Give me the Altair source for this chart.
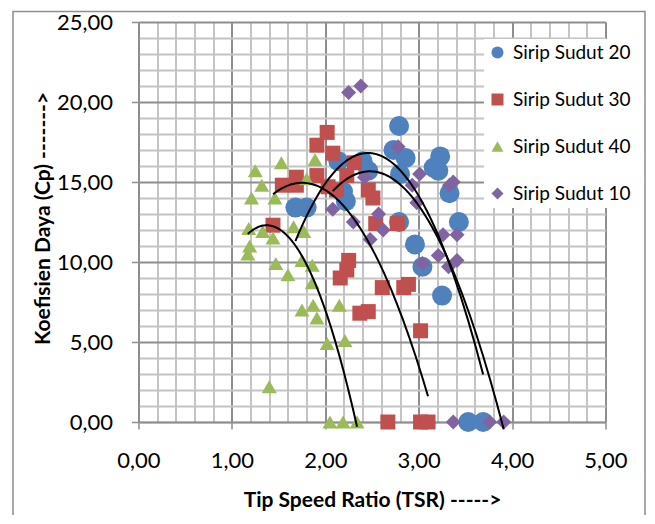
import altair as alt
import pandas as pd

series_names = ["Sirip Sudut 20", "Sirip Sudut 30", "Sirip Sudut 40", "Sirip Sudut 10"]
series_colors = ["#4F81BD", "#C0504D", "#9BBB59", "#8064A2"]
series_shapes = ["circle", "square", "triangle-up", "diamond"]

# Sirip Sudut 20
tsr_20 = [1.68, 1.80, 2.14, 2.19, 2.22, 2.40, 2.46, 2.73, 2.79, 2.86, 2.80, 2.79, 2.96, 3.04,
          3.16, 3.21, 3.23, 3.25, 3.33, 3.43, 3.53, 3.69]
cp_20 = [13.4, 13.4, 16.3, 14.4, 13.8, 16.3, 15.7, 17.0, 18.5, 16.5, 15.5, 12.5, 11.1, 9.7,
         15.9, 15.7, 16.6, 7.9, 14.3, 12.5, 0.0, 0.0]

# Sirip Sudut 30
tsr_30 = [1.44, 1.54, 1.69, 1.69, 1.91, 1.91, 2.02, 2.08, 2.03, 2.12, 2.23, 2.31, 2.46, 2.51,
          2.54, 2.77, 2.25, 2.23, 2.16, 2.37, 2.46, 2.61, 2.84, 2.89, 3.02, 2.67, 3.02, 3.10]
cp_30 = [12.3, 14.8, 15.3, 14.8, 15.4, 17.3, 18.1, 16.8, 14.7, 14.5, 15.4, 16.2, 14.5, 14.0,
         12.4, 12.4, 10.1, 9.5, 9.0, 6.8, 6.9, 8.4, 8.4, 8.6, 5.7, 0.0, 0.0, 0.0]

# Sirip Sudut 40
tsr_40 = [1.17, 1.19, 1.18, 1.21, 1.25, 1.32, 1.33, 1.40, 1.44, 1.46, 1.47, 1.53, 1.60, 1.66,
          1.75, 1.75, 1.77, 1.80, 1.86, 1.86, 1.87, 1.89, 1.91, 2.02, 2.15, 2.21, 2.05, 2.19, 2.34]
cp_40 = [10.5, 11.0, 12.1, 14.0, 15.7, 14.8, 11.9, 2.2, 11.5, 14.0, 9.9, 16.2, 9.2, 12.2,
         10.1, 7.0, 11.9, 15.2, 9.8, 8.7, 7.3, 16.4, 6.5, 4.9, 7.3, 5.1, 0.0, 0.0, 0.0]

# Sirip Sudut 10
tsr_10 = [2.08, 2.25, 2.38, 2.30, 2.42, 2.48, 2.57, 2.62, 2.78, 2.93, 2.98, 3.01, 3.04, 3.21,
          3.26, 3.32, 3.33, 3.37, 3.41, 3.41, 3.37, 3.76, 3.91]
cp_10 = [13.3, 20.6, 21.0, 12.5, 15.3, 11.4, 13.0, 12.0, 17.2, 14.8, 13.7, 15.5, 9.9, 10.4,
         11.7, 9.7, 14.8, 15.0, 11.7, 10.1, 0.0, 0.0, 0.0]

x_ticks = [0, 0.2, 0.4, 0.6, 0.8, 1, 1.2, 1.4, 1.6, 1.8, 2, 2.2, 2.4, 2.6, 2.8, 3,
           3.2, 3.4, 3.6, 3.8, 4, 4.2, 4.4, 4.6, 4.8, 5]
y_ticks = list(range(0, 26))

rows = []
for name, xs, ys in [
    (series_names[0], tsr_20, cp_20),
    (series_names[1], tsr_30, cp_30),
    (series_names[2], tsr_40, cp_40),
    (series_names[3], tsr_10, cp_10),
]:
    for a, b in zip(xs, ys):
        rows.append({"tsr": a, "cp": b, "s": name})
df = pd.DataFrame(rows)

FONT = "Lato"
major_x = "abs(datum.value - round(datum.value)) < 0.001"
major_y = "datum.value % 5 === 0"
fmt = "replace(format(datum.value, '.2f'), '.', ',')"

x_axis = alt.Axis(
    values=x_ticks, tickCount=200,
    grid=True,
    gridColor={"condition": {"test": major_x, "value": "#8e8e8e"}, "value": "#c4c4c4"},
    gridWidth=2,
    tickOpacity={"condition": {"test": major_x, "value": 1}, "value": 0},
    tickColor="#8e8e8e", tickSize=7, tickWidth=1.5,
    domainColor="#8e8e8e", domainWidth=1.5,
    labelExpr=f"{major_x} ? {fmt} : ''",
    labelOverlap=False, labelFlush=False,
    labelFont=FONT, labelFontSize=22, labelColor="black",
    labelBaseline="middle", labelPadding=31,
    title="Tip Speed Ratio (TSR) ----->",
    titleFont=FONT, titleFontSize=21, titleFontWeight="bold", titleColor="black",
    titleX=233.5, titleY=78, titleAlign="center", titleBaseline="middle",
)

y_axis = alt.Axis(
    values=y_ticks, tickCount=200,
    grid=True,
    gridColor={"condition": {"test": major_y, "value": "#8e8e8e"}, "value": "#c4c4c4"},
    gridWidth=2,
    tickOpacity={"condition": {"test": major_y, "value": 1}, "value": 0},
    tickColor="#8e8e8e", tickSize=7, tickWidth=1.5,
    domainColor="#8e8e8e", domainWidth=1.5,
    labelExpr=f"{major_y} ? {fmt} : ''",
    labelOverlap=False, labelFlush=False,
    labelFont=FONT, labelFontSize=22, labelColor="black",
    labelPadding=19,
    title="Koefisien Daya (Cp)  ------->",
    titleFont=FONT, titleFontSize=21, titleFontWeight="bold", titleColor="black",
    titleX=-95.5, titleY=196, titleAngle=270, titleAlign="center", titleBaseline="middle",
)

x_scale = alt.Scale(domain=[0, 5], nice=False, zero=False)
y_scale = alt.Scale(domain=[0, 25], nice=False)

legend = alt.Legend(
    title=None, orient="none", legendX=345.5, legendY=17,
    fillColor="white", padding=4, rowPadding=27,
    labelFont=FONT, labelFontSize=19, labelColor="black", labelOffset=6,
    symbolSize=144, symbolStrokeWidth=0,
)

color_enc = alt.Color("s:N", scale=alt.Scale(domain=series_names, range=series_colors), legend=legend)
shape_enc = alt.Shape("s:N", scale=alt.Scale(domain=series_names, range=series_shapes), legend=legend)

border = alt.Chart(alt.Data(values=[{}])).mark_rect(
    fill="transparent", stroke="#8e8e8e", strokeWidth=1.5
).encode(
    x=alt.value(-125.5), x2=alt.value(506.5), y=alt.value(-10.5), y2=alt.value(520)
)

circles = alt.Chart(df).transform_filter(
    alt.datum.s == series_names[0]
).mark_point(filled=True, opacity=1, strokeWidth=0, size=400).encode(
    x=alt.X("tsr:Q", scale=x_scale, axis=x_axis),
    y=alt.Y("cp:Q", scale=y_scale, axis=y_axis),
    color=color_enc, shape=shape_enc,
)

others = alt.Chart(df).transform_filter(
    alt.datum.s != series_names[0]
).mark_point(filled=True, opacity=1, strokeWidth=0, size=225).encode(
    x=alt.X("tsr:Q", scale=x_scale),
    y=alt.Y("cp:Q", scale=y_scale),
    color=color_enc, shape=shape_enc,
)

trend = alt.Chart(df).transform_regression(
    "tsr", "cp", groupby=["s"], method="poly", order=2
).mark_line(color="black", strokeWidth=2).encode(
    x=alt.X("tsr:Q", scale=x_scale),
    y=alt.Y("cp:Q", scale=y_scale),
    detail="s:N",
)

chart = alt.layer(border, circles, others, trend).properties(
    width=467, height=400,
    autosize=alt.AutoSizeParams(type="none"),
    padding={"left": 130.5, "top": 14, "right": 41, "bottom": 93},
    background="white",
).configure_view(strokeWidth=0)

chart.save("out.html", embed_options={"renderer": "svg", "actions": False})
